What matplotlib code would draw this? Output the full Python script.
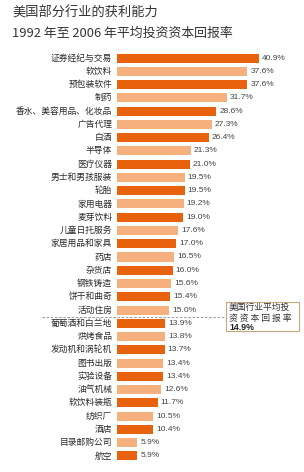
import matplotlib.pyplot as plt
from matplotlib.patches import Rectangle

plt.rcParams['font.family'] = ['Noto Sans CJK SC', 'DejaVu Sans']

industries = ["证券经纪与交易", "软饮料", "预包装软件", "制药", "香水、美容用品、化妆品",
              "广告代理", "白酒", "半导体", "医疗仪器", "男士和男孩服装", "轮胎",
              "家用电器", "麦芽饮料", "儿童日托服务", "家居用品和家具", "药店",
              "杂货店", "钢铁铸造", "饼干和曲奇", "活动住房", "葡萄酒和白兰地",
              "烘烤食品", "发动机和涡轮机", "图书出版", "实验设备", "油气机械",
              "软饮料装瓶", "纺织厂", "酒店", "目录邮购公司", "航空"]
roic = [40.9, 37.6, 37.6, 31.7, 28.6, 27.3, 26.4, 21.3, 21.0, 19.5, 19.5,
        19.2, 19.0, 17.6, 17.0, 16.5, 16.0, 15.6, 15.4, 15.0, 13.9,
        13.8, 13.7, 13.4, 13.4, 12.6, 11.7, 10.5, 10.4, 5.9, 5.9]
average = 14.9

dark = "#E8620E"
light = "#F5B07E"
colors = [dark if i % 2 == 0 else light for i in range(len(roic))]

W, H = 304, 472
fig = plt.figure(figsize=(W / 100, H / 100), dpi=100)
fig.patch.set_facecolor("white")

# axes placed in pixel terms
left, right = 117, 304
top, bottom = 51.4, 462.6
ax = fig.add_axes([left / W, 1 - bottom / H, (right - left) / W, (bottom - top) / H])
ax.set_xlim(0, (right - left) / 3.47)
ax.set_ylim(len(roic) - 0.5, -0.5)
ax.axis("off")

y = list(range(len(roic)))
ax.barh(y, roic, height=0.68, color=colors)

for i, (name, v) in enumerate(zip(industries, roic)):
    ax.text(-1.4, i, name, ha="right", va="center", fontsize=6.3, color="#2b2b2b")
    ax.text(v + 0.9, i, f"{v}%", ha="left", va="center", fontsize=6,
            color="#444444", family="Liberation Sans")

# average line between the 15.0 and 13.9 bars
split = sum(1 for v in roic if v > average) - 0.5
ax.plot([-75 / 3.47, 109 / 3.47], [split, split], ls=(0, (3, 2)), lw=0.6,
        color="#888888", clip_on=False)

# note box
fig.patches.append(Rectangle((226 / W, 1 - 331 / H), 73 / W, 29 / H,
                             transform=fig.transFigure, fill=False,
                             edgecolor="#C9A77A", lw=0.8))
fig.text(229 / W, 1 - 307.5 / H, "美国行业平均投", fontsize=6.3, color="#333333", va="center")
fig.text(229 / W, 1 - 318 / H, "资 资 本 回 报 率", fontsize=6.3, color="#333333", va="center")
fig.text(229 / W, 1 - 327.5 / H, f"{average}%", fontsize=6.3, color="#222222",
         va="center", fontweight="bold", family="Liberation Sans")

fig.text(12 / W, 1 - 13 / H, "美国部分行业的获利能力", fontsize=9.5, color="#333333", va="center")
fig.text(12 / W, 1 - 33 / H, "1992 年至 2006 年平均投资资本回报率", fontsize=9.3,
         color="#333333", va="center")

fig.savefig("out.png", dpi=100)
